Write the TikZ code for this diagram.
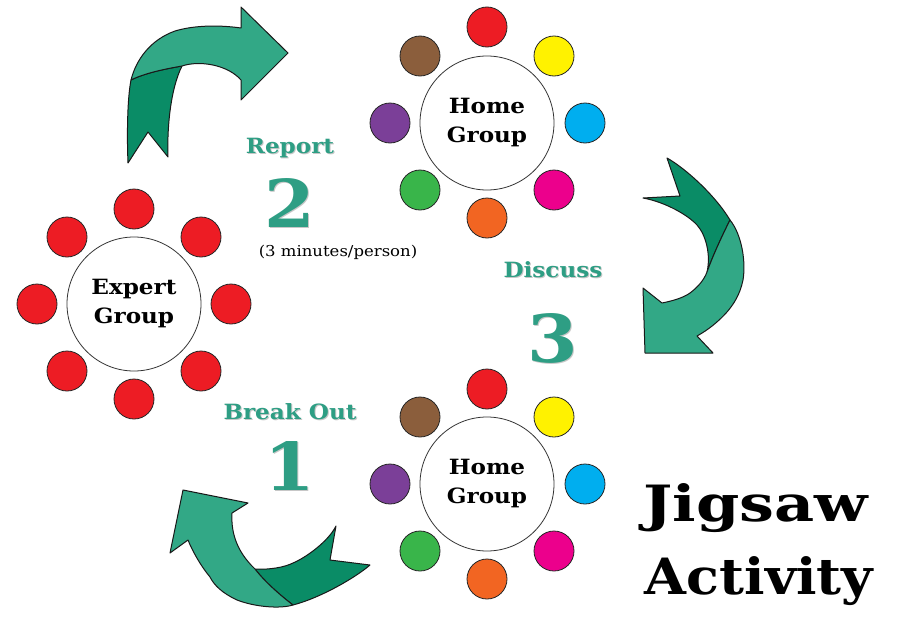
\documentclass[tikz,border=0pt]{standalone}
\usepackage{fontspec}
\setmainfont{DejaVu Serif}[FakeStretch=1.1]
\newfontfamily\titlefont{DejaVu Serif}[FakeStretch=1.24]
\newfontfamily\titlefontb{DejaVu Serif}[FakeStretch=1.08]
\definecolor{tealL}{HTML}{32A886}
\definecolor{tealD}{HTML}{0A8C66}
\definecolor{lblc}{HTML}{2E9E84}
\definecolor{cred}{HTML}{ED1C24}
\definecolor{cyel}{HTML}{FFF200}
\definecolor{cblu}{HTML}{00AEEF}
\definecolor{cmag}{HTML}{EC008C}
\definecolor{cora}{HTML}{F26522}
\definecolor{cgrn}{HTML}{39B54A}
\definecolor{cpur}{HTML}{7B3F98}
\definecolor{cbrn}{HTML}{8B5E3C}
\tikzset{
  bigc/.style={circle, draw=black!80, line width=0.8pt, fill=white, minimum size=134pt, inner sep=0pt, align=center, font=\bfseries\fontsize{21}{29}\selectfont},
  dot/.style={circle, draw=black!85, line width=0.8pt, minimum size=40pt, inner sep=0pt},
  arr/.style={draw=black!90, line width=1pt, line join=round},
  lbl/.style={text=lblc, font=\bfseries\fontsize{21}{24}\selectfont},
  num/.style={text=lblc, font=\bfseries\fontsize{66}{70}\selectfont},
  shd/.style={text=black!22},
  title/.style={font=\titlefont\bfseries\fontsize{50}{56}\selectfont},
  titleb/.style={font=\titlefontb\bfseries\fontsize{50}{56}\selectfont}
}
\begin{document}
\begin{tikzpicture}[x=1pt,y=-1pt]
\useasboundingbox[fill=white] (0,0) rectangle (902,621);
% ---- arrows
% arrow 1 (top-left)
\path[arr, fill=tealD] (131,80) .. controls (127,100) and (127,140) .. (128,163) -- (148,132) -- (168,157)
  .. controls (167,130) and (170,90) .. (182,66) .. controls (165,69) and (145,73) .. (131,80) -- cycle;
\path[arr, fill=tealL] (131,80) .. controls (136,60) and (150,40) .. (175,31) .. controls (195,25) and (220,25) .. (241,28)
  -- (241,7) -- (288,53) -- (241,100) -- (241,80) .. controls (228,65) and (200,60) .. (182,66)
  .. controls (165,69) and (145,73) .. (131,80) -- cycle;
% arrow 2 (right)
\path[arr, fill=tealD] (667,158) .. controls (685,168) and (715,195) .. (730,220) .. controls (720,240) and (712,258) .. (707,272)
  .. controls (711,255) and (706,235) .. (697,225) .. controls (688,215) and (665,202) .. (643,198) -- (680,196) -- cycle;
\path[arr, fill=tealL] (730,220) .. controls (742,235) and (746,262) .. (743,280) .. controls (740,295) and (733,305) .. (727,312)
  .. controls (718,322) and (708,330) .. (697,336) -- (713,353) -- (645,353) -- (643,288) -- (662,303)
  .. controls (672,301) and (683,298) .. (690,293) .. controls (698,287) and (704,280) .. (707,272)
  .. controls (712,258) and (720,240) .. (730,220) -- cycle;
% arrow 3 (bottom-left)
\path[arr, fill=tealD] (255,569) .. controls (270,570) and (285,567) .. (293,563) .. controls (305,558) and (328,542) .. (336,526)
  -- (330,560) -- (370,565) .. controls (355,578) and (320,598) .. (293,605) .. controls (280,595) and (265,582) .. (255,569) -- cycle;
\path[arr, fill=tealL] (183,490) -- (248,503) -- (232,513) .. controls (231,530) and (235,550) .. (255,569)
  .. controls (265,582) and (280,595) .. (293,605) .. controls (280,609) and (255,607) .. (237,600)
  .. controls (222,593) and (214,585) .. (210,577) .. controls (200,565) and (192,550) .. (188,540) -- (170,553) -- cycle;
% ---- expert group
\node[bigc] (eg) at (134,304) {Expert\\Group};
\foreach \n/\x/\y in {e1/134/209, e2/201/237, e3/231/304, e4/201/371, e5/134/399, e6/67/371, e7/37/304, e8/67/237}
  \node[dot, fill=cred] (\n) at (\x,\y) {};
% ---- home group top
\node[bigc] (hg1) at (487,123) {Home\\Group};
\foreach \n/\x/\y/\c in {a1/487/27/cred, a2/554/56/cyel, a3/585/123/cblu, a4/554/190/cmag, a5/487/218/cora, a6/420/190/cgrn, a7/390/123/cpur, a8/420/56/cbrn}
  \node[dot, fill=\c] (\n) at (\x,\y) {};
% ---- home group bottom
\node[bigc] (hg2) at (487,484) {Home\\Group};
\foreach \n/\x/\y/\c in {b1/487/389/cred, b2/554/417/cyel, b3/585/484/cblu, b4/554/551/cmag, b5/487/579/cora, b6/420/551/cgrn, b7/390/484/cpur, b8/420/417/cbrn}
  \node[dot, fill=\c] (\n) at (\x,\y) {};
% ---- labels (with soft shadow)
\foreach \n/\x/\y/\t in {rep/290/148/Report, dis/553/270/Discuss, brk/290/412/Break Out}{
  \node[lbl, shd] (\n s) at (\x+1,\y+1) {\t};
  \node[lbl] (\n) at (\x,\y) {\t};
}
\foreach \n/\x/\y/\t in {n2/290/203/2, n3/553/338/3, n1/290/466/1}{
  \node[num, shd] (\n s) at (\x+1.2,\y+1.2) {\t};
  \node[num] (\n) at (\x,\y) {\t};
}
\node[font=\fontsize{15}{17}\selectfont] (min) at (338,252) {(3 minutes/person)};
\node[title] (jig) at (756,508) {Jigsaw};
\node[titleb] (act) at (759,581) {Activity};
\end{tikzpicture}
\end{document}
